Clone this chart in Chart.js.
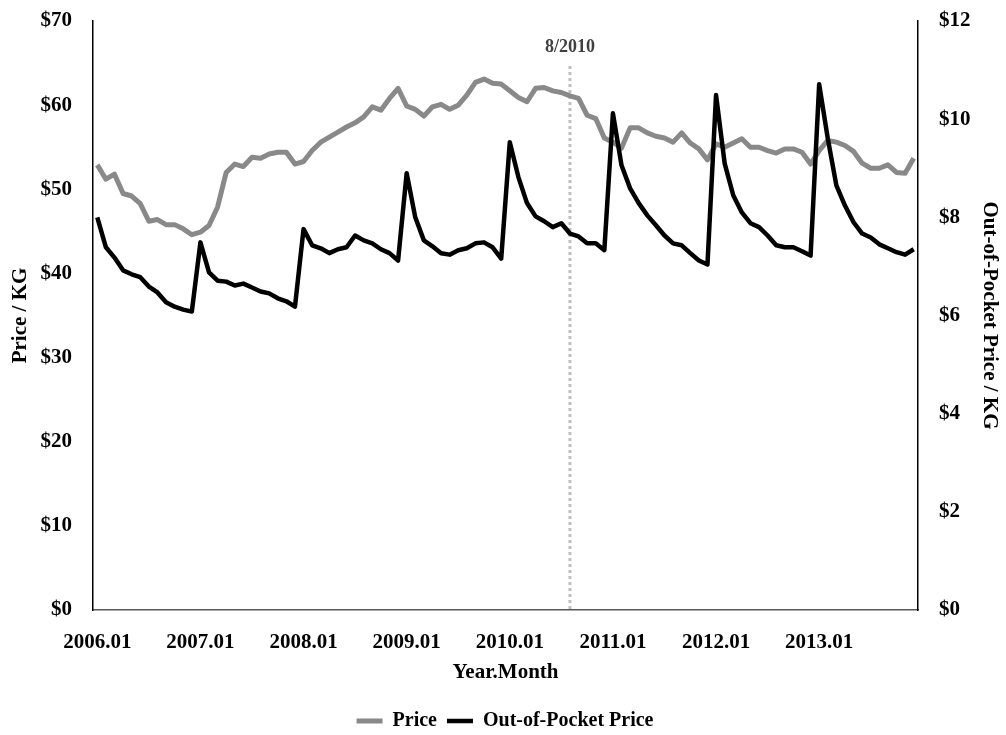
<!DOCTYPE html>
<html>
<head>
<meta charset="utf-8">
<script src="https://cdn.jsdelivr.net/npm/chart.js@4"></script>
<style>
  html, body { margin: 0; padding: 0; background: #fff; }
  #wrap { width: 1006px; height: 735px; position: relative; }
</style>
</head>
<body>
<div id="wrap"><canvas id="priceChart"></canvas></div>
<script>
/* Price vs Out-of-Pocket Price, monthly 2006-2013 */

const years = ['2006', '2007', '2008', '2009', '2010', '2011', '2012', '2013'];
const months = ['01', '02', '03', '04', '05', '06', '07', '08', '09', '10', '11', '12'];
const categories = years.flatMap(y => months.map(m => `${y}.${m}`));

// $ / KG (left axis)
const priceValues = [
  52.9, 51.2, 51.8, 49.5, 49.2, 48.3, 46.2, 46.4, 45.8, 45.8, 45.3, 44.6,
  44.9, 45.7, 47.9, 52.0, 53.0, 52.7, 53.8, 53.7, 54.2, 54.4, 54.4, 53.0,
  53.3, 54.6, 55.6, 56.2, 56.8, 57.4, 57.9, 58.6, 59.8, 59.4, 60.8, 62.0,
  59.9, 59.5, 58.7, 59.8, 60.1, 59.5, 60.0, 61.2, 62.7, 63.1, 62.6, 62.5,
  61.7, 60.9, 60.4, 62.0, 62.1, 61.7, 61.5, 61.1, 60.8, 58.8, 58.4, 56.1,
  55.6, 54.9, 57.3, 57.3, 56.7, 56.3, 56.1, 55.6, 56.7, 55.5, 54.8, 53.5,
  55.4, 55.0, 55.5, 56.0, 55.0, 55.0, 54.6, 54.3, 54.8, 54.8, 54.4, 53.0,
  54.6, 55.8, 55.6, 55.2, 54.5, 53.1, 52.5, 52.5, 52.9, 52.0, 51.9, 53.7
];

// out-of-pocket $ / KG (right axis)
const oopValues = [
  8.00, 7.39, 7.18, 6.92, 6.84, 6.78, 6.59, 6.47, 6.27, 6.18, 6.12, 6.08,
  7.49, 6.88, 6.71, 6.69, 6.61, 6.65, 6.57, 6.49, 6.45, 6.35, 6.29, 6.18,
  7.76, 7.43, 7.37, 7.27, 7.35, 7.39, 7.63, 7.53, 7.47, 7.35, 7.27, 7.12,
  8.90, 8.00, 7.53, 7.41, 7.27, 7.24, 7.33, 7.37, 7.47, 7.49, 7.39, 7.16,
  9.53, 8.82, 8.29, 8.02, 7.92, 7.80, 7.88, 7.67, 7.61, 7.47, 7.47, 7.33,
  10.12, 9.06, 8.59, 8.29, 8.04, 7.84, 7.63, 7.47, 7.43, 7.27, 7.12, 7.04,
  10.49, 9.10, 8.45, 8.10, 7.88, 7.80, 7.63, 7.43, 7.39, 7.39, 7.31, 7.22,
  10.71, 9.61, 8.65, 8.24, 7.90, 7.67, 7.59, 7.45, 7.37, 7.29, 7.24, 7.35
];

const leftTicks = [0, 10, 20, 30, 40, 50, 60, 70];
const rightTicks = [0, 2, 4, 6, 8, 10, 12];
const markerCategory = '2010.08';
const markerText = '8/2010';

const FONT = 'Liberation Serif';
const tickFont = { family: FONT, size: 21, weight: 'bold' };

// invisible tick marks keep the labels clear of the axis line
const hiddenTicks = { display: true, drawOnChartArea: false, drawTicks: true, tickLength: 21, color: 'rgba(0,0,0,0)' };

// dotted reference line at 8/2010
const markerLine = {
  id: 'markerLine',
  beforeDatasetsDraw(chart) {
    const x = chart.scales.x.getPixelForValue(categories.indexOf(markerCategory));
    const { top, bottom } = chart.chartArea;
    const ctx = chart.ctx;
    ctx.save();
    ctx.strokeStyle = '#c0c0c0';
    ctx.lineWidth = 3;
    ctx.setLineDash([3, 3]);
    ctx.beginPath();
    ctx.moveTo(x, top + 45);
    ctx.lineTo(x, bottom);
    ctx.stroke();
    ctx.setLineDash([]);
    ctx.fillStyle = '#404040';
    ctx.font = `bold 18px "${FONT}"`;
    ctx.textAlign = 'center';
    ctx.textBaseline = 'middle';
    ctx.fillText(markerText, x, top + 26);
    ctx.restore();
  }
};

const ctx = document.getElementById('priceChart').getContext('2d');
new Chart(ctx, {
  type: 'line',
  data: {
    labels: categories,
    datasets: [
      {
        label: 'Price',
        data: priceValues,
        yAxisID: 'y',
        borderColor: '#898989',
        backgroundColor: '#898989',
        borderWidth: 5,
        pointRadius: 0,
        tension: 0,
        borderJoinStyle: 'round',
        order: 1
      },
      {
        label: 'Out-of-Pocket Price',
        data: oopValues,
        yAxisID: 'y1',
        borderColor: '#000000',
        backgroundColor: '#000000',
        borderWidth: 4.5,
        pointRadius: 0,
        tension: 0,
        borderJoinStyle: 'round',
        order: 0
      }
    ]
  },
  options: {
    responsive: true,
    maintainAspectRatio: false,
    animation: false,
    layout: { padding: { left: 8, right: 4, top: 21, bottom: -6 } },
    plugins: {
      tooltip: { enabled: false },
      legend: {
        position: 'bottom',
        labels: {
          color: '#000',
          font: { family: FONT, size: 20, weight: 'bold' },
          usePointStyle: true,
          pointStyle: 'line',
          pointStyleWidth: 26,
          padding: 10,
          sort: (a, b) => a.datasetIndex - b.datasetIndex
        }
      }
    },
    scales: {
      x: {
        type: 'category',
        offset: true,
        grid: { display: false },
        border: { display: true, color: '#595959', width: 1.5 },
        ticks: {
          color: '#000',
          font: tickFont,
          autoSkip: false,
          maxRotation: 0,
          padding: 12,
          callback: function(value, index) {
            return index % 12 === 0 ? categories[index] : null;
          }
        },
        title: {
          display: true,
          text: 'Year.Month',
          color: '#000',
          font: tickFont,
          padding: { top: 4, bottom: 16 }
        },
        afterFit: s => { s.height = 91; }
      },
      y: {
        position: 'left',
        min: leftTicks[0],
        max: leftTicks[leftTicks.length - 1],
        afterBuildTicks: s => { s.ticks = leftTicks.map(v => ({ value: v })); },
        grid: hiddenTicks,
        border: { display: true, color: '#000', width: 1.5 },
        ticks: {
          color: '#000',
          font: tickFont,
          padding: 0,
          callback: v => '$' + v
        },
        title: {
          display: true,
          text: 'Price / KG',
          color: '#000',
          font: tickFont,
          padding: 0
        },
        afterFit: s => { s.width = 85; }
      },
      y1: {
        position: 'right',
        min: rightTicks[0],
        max: rightTicks[rightTicks.length - 1],
        afterBuildTicks: s => { s.ticks = rightTicks.map(v => ({ value: v })); },
        grid: hiddenTicks,
        border: { display: true, color: '#000', width: 1.5 },
        ticks: {
          color: '#000',
          font: tickFont,
          padding: 0,
          callback: v => '$' + v
        },
        title: {
          display: true,
          text: 'Out-of-Pocket Price / KG',
          color: '#000',
          font: tickFont,
          padding: 0
        },
        afterFit: s => { s.width = 84; }
      }
    }
  },
  plugins: [markerLine]
});
</script>
</body>
</html>
